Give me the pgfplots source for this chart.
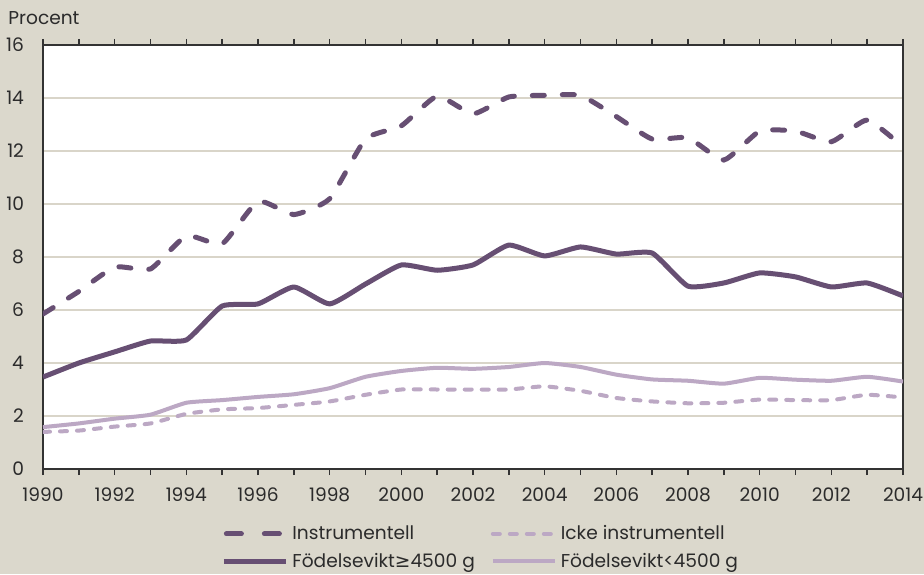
\documentclass[border=0pt]{standalone}
\usepackage{pgfplots}
\pgfplotsset{compat=1.18}
\usepackage{fontspec}
\setmainfont{Poppins}
\newfontfamily\symfont{DejaVu Sans}
\definecolor{bg}{HTML}{DBD8CC}
\definecolor{dark}{HTML}{674F73}
\definecolor{light}{HTML}{BCA8C4}
\definecolor{gridc}{HTML}{D9D5C9}
\definecolor{txt}{HTML}{2B2B2B}

% legend sample for the long-dashed series: two whole dashes
\pgfplotsset{instr legend/.style={legend image code/.code={%
  \draw[##1, dash pattern=on 7.5pt off 11.5pt] (1.25pt,0pt) -- (30pt,0pt);}}}

\pgfplotstableread{
year instr icke over under
1990 5.85 1.40 3.47 1.58
1991 6.70 1.45 4.00 1.72
1992 7.62 1.60 4.42 1.90
1993 7.55 1.72 4.83 2.05
1994 8.80 2.08 4.87 2.50
1995 8.50 2.25 6.15 2.60
1996 10.10 2.30 6.23 2.72
1997 9.60 2.42 6.87 2.82
1998 10.20 2.55 6.23 3.05
1999 12.45 2.80 6.98 3.48
2000 12.95 3.00 7.70 3.70
2001 14.07 3.00 7.50 3.82
2002 13.40 3.00 7.70 3.78
2003 14.04 3.00 8.45 3.85
2004 14.10 3.12 8.04 4.00
2005 14.10 2.95 8.38 3.85
2006 13.30 2.68 8.11 3.56
2007 12.45 2.55 8.15 3.38
2008 12.50 2.48 6.90 3.33
2009 11.66 2.50 7.02 3.22
2010 12.75 2.62 7.40 3.44
2011 12.75 2.60 7.25 3.37
2012 12.35 2.60 6.87 3.33
2013 13.17 2.80 7.02 3.48
2014 12.15 2.70 6.53 3.30
}\births

\begin{document}
\begin{tikzpicture}
\fill[bg] (0,0) rectangle (462pt,287pt);
\node[anchor=west, inner sep=0pt, text=txt, font=\fontsize{9.3}{11}\selectfont] at (4pt,278pt) {Procent};
\begin{axis}[
  at={(21.5pt,52.5pt)}, anchor=south west,
  scale only axis, width=430pt, height=212pt,
  xmin=1990, xmax=2014, ymin=0, ymax=16,
  axis background/.style={fill=white},
  axis line style={black!80, line width=0.7pt},
  xtick={1990,1992,...,2014},
  minor xtick={1991,1993,...,2013},
  ytick={0,2,...,16},
  tick align=outside,
  major tick length=3pt, minor tick length=3pt,
  every tick/.style={black!80, line width=0.7pt},
  ytick style={draw=none},
  ymajorgrids,
  major grid style={gridc, line width=0.6pt},
  tick label style={text=txt, font=\fontsize{9.3}{11}\selectfont},
  /pgf/number format/assume math mode=true,
  /pgf/number format/1000 sep={},
  yticklabel style={xshift=-3pt},
  xticklabel style={yshift=-3pt},
  legend columns=2,
  legend style={at={(0.2,-0.113)}, anchor=north west, draw=none, fill=none,
    font=\fontsize{9.3}{11}\selectfont, text=txt,
    /tikz/every even column/.append style={column sep=6pt},
    row sep=1.2pt},
  legend cell align=left,
  legend image code/.code={\draw[#1] (0pt,0pt) -- (31pt,0pt);},
]
\addplot[dark, line width=2.5pt, line cap=round, dash pattern=on 6pt off 9pt, smooth, tension=0.3, instr legend]
  table[x=year, y=instr] {\births};
\addlegendentry{Instrumentell}
\addplot[light, line width=2pt, line cap=round, dash pattern=on 3.5pt off 5pt, smooth, tension=0.3]
  table[x=year, y=icke] {\births};
\addlegendentry{Icke instrumentell}
\addplot[dark, line width=2.5pt, line join=round, smooth, tension=0.3]
  table[x=year, y=over] {\births};
\addlegendentry{Födelsevikt{\symfont ≥}4500 g}
\addplot[light, line width=2pt, line join=round, smooth, tension=0.3]
  table[x=year, y=under] {\births};
\addlegendentry{Födelsevikt<4500 g}
\end{axis}
\pgfresetboundingbox
\path[use as bounding box] (0,0) rectangle (462pt,287pt);
\end{tikzpicture}
\end{document}
